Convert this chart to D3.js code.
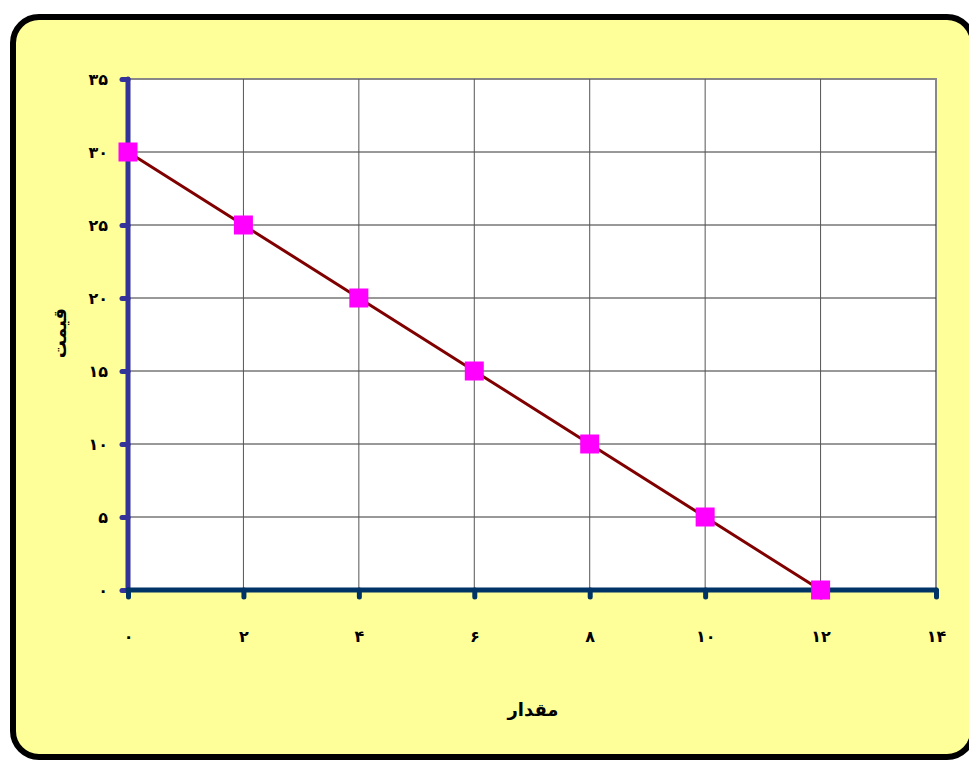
<!DOCTYPE html>
<html>
<head>
<meta charset="utf-8">
<script src="https://cdn.jsdelivr.net/npm/d3@7"></script>
<style>
  body { margin: 0; background: #fff; }
  text { font-family: "DejaVu Sans", sans-serif; font-weight: bold; fill: #000; }
</style>
</head>
<body>
<div id="chart"></div>
<script>
const quantity = [0, 2, 4, 6, 8, 10, 12];
const price = [30, 25, 20, 15, 10, 5, 0];
const xTicks = [0, 2, 4, 6, 8, 10, 12, 14];
const yTicks = [0, 5, 10, 15, 20, 25, 30, 35];
const xTitle = "مقدار";
const yTitle = "قیمت";

// persian digits for tick labels
const fa = n => String(n).replace(/\d/g, d => "۰۱۲۳۴۵۶۷۸۹"[d]);

const W = 969, H = 760;
const svg = d3.select("#chart").append("svg")
    .attr("width", W)
    .attr("height", H);

// yellow rounded frame
svg.append("rect")
    .attr("x", 13).attr("y", 17)
    .attr("width", 960).attr("height", 740)
    .attr("rx", 26).attr("ry", 26)
    .attr("fill", "#ffff99")
    .attr("stroke", "#000")
    .attr("stroke-width", 6);

const plot = { left: 128, right: 936, top: 79, bottom: 590 };

const x = d3.scaleLinear().domain([0, 14]).range([plot.left, plot.right]);
const y = d3.scaleLinear().domain([0, 35]).range([plot.bottom, plot.top]);

// plot area
svg.append("rect")
    .attr("x", plot.left).attr("y", plot.top)
    .attr("width", plot.right - plot.left).attr("height", plot.bottom - plot.top)
    .attr("fill", "#fff")
    .attr("stroke", "#888")
    .attr("stroke-width", 2);

// grid lines
svg.append("g").selectAll("line")
    .data(yTicks.filter(d => d > 0 && d < 35))
    .enter().append("line")
    .attr("x1", plot.left).attr("x2", plot.right)
    .attr("y1", d => y(d)).attr("y2", d => y(d))
    .attr("stroke", "#333").attr("stroke-width", 1);

svg.append("g").selectAll("line")
    .data(xTicks.filter(d => d > 0 && d < 14))
    .enter().append("line")
    .attr("y1", plot.top).attr("y2", plot.bottom)
    .attr("x1", d => x(d)).attr("x2", d => x(d))
    .attr("stroke", "#555").attr("stroke-width", 1);

// y axis
const yAxis = svg.append("g")
    .attr("transform", "translate(" + plot.left + ",0)")
    .call(d3.axisLeft(y).tickValues(yTicks).tickSize(6).tickPadding(14).tickFormat(fa));
yAxis.select(".domain")
    .attr("d", "M0," + y(35) + "V" + plot.bottom)
    .attr("stroke", "#333399").attr("stroke-width", 5).attr("stroke-linecap", "round");
yAxis.selectAll(".tick line")
    .attr("stroke", "#333399").attr("stroke-width", 5).attr("stroke-linecap", "round");
yAxis.selectAll(".tick text")
    .style("font-size", "16px");

// x axis
const xAxis = svg.append("g")
    .attr("transform", "translate(0," + plot.bottom + ")")
    .call(d3.axisBottom(x).tickValues(xTicks).tickSize(7).tickPadding(34).tickFormat(fa));
xAxis.select(".domain")
    .attr("d", "M" + plot.left + ",0H" + plot.right)
    .attr("stroke", "#003366").attr("stroke-width", 5).attr("stroke-linecap", "round");
xAxis.selectAll(".tick line")
    .attr("stroke", "#003366").attr("stroke-width", 5).attr("stroke-linecap", "round");
xAxis.selectAll(".tick text")
    .style("font-size", "16px");

// axis titles
svg.append("text")
    .attr("transform", "translate(" + 533 + "," + 716 + ")")
    .attr("text-anchor", "middle")
    .style("font-size", "18px")
    .text(xTitle);

svg.append("text")
    .attr("transform", "translate(" + 66 + "," + 333 + ") rotate(-90)")
    .attr("text-anchor", "middle")
    .style("font-size", "18px")
    .text(yTitle);

// series
const pts = quantity.map((q, i) => ({ q: q, p: price[i] }));

svg.append("path")
    .datum(pts)
    .attr("fill", "none")
    .attr("stroke", "#800000")
    .attr("stroke-width", 3)
    .attr("d", d3.line().x(d => x(d.q)).y(d => y(d.p)));

svg.selectAll(".marker")
    .data(pts)
    .enter().append("rect")
    .attr("class", "marker")
    .attr("x", d => x(d.q) - 9.5)
    .attr("y", d => y(d.p) - 9.5)
    .attr("width", 19).attr("height", 19)
    .attr("fill", "#ff00ff");
</script>
</body>
</html>
